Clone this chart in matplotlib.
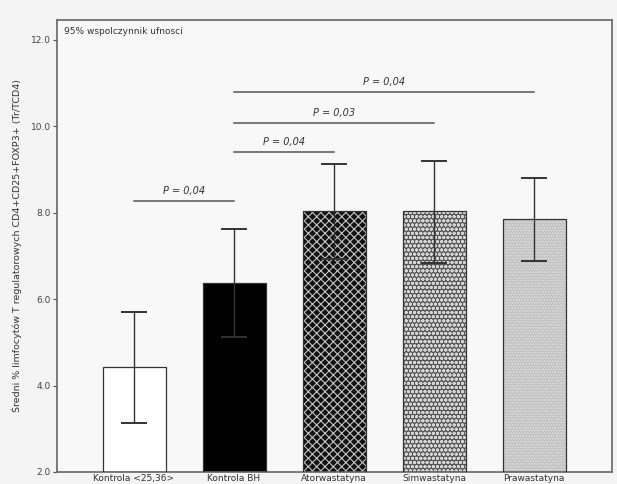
#!/usr/bin/env python3
"""Mean % of regulatory T cells per group, with 95% CI whiskers and
pairwise P-value brackets."""
import matplotlib

matplotlib.use("Agg")
import matplotlib.pyplot as plt
import numpy as np

plt.rcParams.update({
    "font.family": "DejaVu Sans",
    "font.size": 6.5,
})

GROUPS = ["Kontrola <25,36>", "Kontrola BH", "Atorwastatyna",
          "Simwastatyna", "Prawastatyna"]
MEANS = [4.43, 6.37, 8.03, 8.03, 7.86]
CI_LOW = [3.13, 5.12, 6.92, 6.84, 6.88]
CI_HIGH = [5.70, 7.62, 9.13, 9.20, 8.81]

# (group a, group b, bracket height, label)
COMPARISONS = [
    (0, 1, 8.27, "P = 0,04"),
    (1, 2, 9.41, "P = 0,04"),
    (1, 3, 10.08, "P = 0,03"),
    (1, 4, 10.80, "P = 0,04"),
]

# face, hatch colour, hatch, hatch line width
STYLES = [
    ("white",   "white",   "",        1.0),
    ("black",   "black",   "",        1.0),
    ("#111111", "#c4c4c4", "xxxx",    0.8),
    ("#555555", "#d4d4d4", "oooo",    1.0),
    ("#c2c2c2", "#e2e2e2", "......",  0.8),
]

fig = plt.figure(figsize=(6.17, 4.84), dpi=100, facecolor="#f4f4f4")
ax = fig.add_axes([0.0924, 0.0248, 0.8996, 0.9339], facecolor="#f8f8f8")

x = np.arange(len(GROUPS))
means = np.array(MEANS)
w = 0.63
for xi, m, (face, hcol, hatch, hlw) in zip(x, means, STYLES):
    with plt.rc_context({"hatch.linewidth": hlw}):
        ax.bar(xi, m - 2.0, bottom=2.0, width=w, color=face, edgecolor=hcol,
               hatch=hatch, linewidth=0, zorder=2)
    ax.bar(xi, m - 2.0, bottom=2.0, width=w, fill=False,
           edgecolor="#333333", linewidth=0.9, zorder=3)

yerr = np.vstack([means - np.array(CI_LOW), np.array(CI_HIGH) - means])
ax.errorbar(x, means, yerr=yerr, fmt="none", ecolor="#333333",
            elinewidth=1.0, capsize=9.5, capthick=1.4, zorder=4)

for a, b, h, lbl in COMPARISONS:
    ax.plot([x[a], x[b]], [h, h], color="#555555", linewidth=1.1, zorder=4)
    ax.text((x[a] + x[b]) / 2, h + 0.12, lbl, ha="center", va="bottom",
            fontsize=7, style="italic", color="#333333")

ax.text(0.012, 0.985, "95% wspolczynnik ufnosci", transform=ax.transAxes,
        ha="left", va="top", fontsize=6.5, color="#333333")

ax.set_xlim(-0.77, 4.78)
ax.set_ylim(2.0, 12.46)
ax.set_yticks([2, 4, 6, 8, 10, 12])
ax.set_yticklabels([f"{v:.1f}" for v in [2, 4, 6, 8, 10, 12]], color="#444444")
ax.set_xticks(x)
ax.set_xticklabels(GROUPS, color="#333333")
ax.tick_params(axis="x", length=0, pad=1.5)
ax.tick_params(axis="y", length=3, width=0.8, pad=1.5, colors="#555555",
               labelcolor="#444444")
for s in ax.spines.values():
    s.set_color("#666666")
    s.set_linewidth(1.2)

ax.set_ylabel("Średni % limfocytów T regulatorowych CD4+CD25+FOXP3+ (Tr/TCD4)",
              fontsize=6.8, color="#333333", labelpad=6)

fig.savefig("out.png", dpi=100, facecolor=fig.get_facecolor())
